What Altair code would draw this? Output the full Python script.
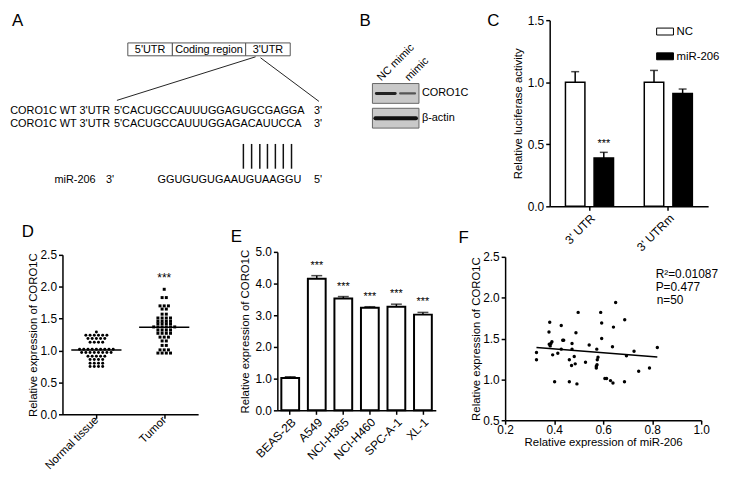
import altair as alt
import pandas as pd

FONT = "Liberation Sans"

# ---------------- data ----------------
C_site = ["3' UTR", "3' UTR", "3' UTRm", "3' UTRm"]
C_group = ["NC", "miR-206", "NC", "miR-206"]
C_mean = [1.00, 0.39, 1.00, 0.91]
C_sem = [0.085, 0.045, 0.095, 0.035]
C_sig = ["", "***", "", ""]

D_groups = ["Normal tissue", "Tumor"]
D_normal = [1.29,
            1.24, 1.24, 1.24, 1.24, 1.24, 1.24,
            1.19, 1.19, 1.19, 1.19, 1.19,
            1.13, 1.13, 1.13, 1.13,
            1.02, 1.02, 1.02, 1.02, 1.02, 1.02, 1.02, 1.02, 1.02,
            0.97, 0.97, 0.97, 0.97, 0.97, 0.97, 0.97, 0.97,
            0.91, 0.91, 0.91, 0.91, 0.91,
            0.86, 0.86, 0.86, 0.86,
            0.80, 0.80, 0.80, 0.80,
            0.75, 0.75, 0.75, 0.75]
D_tumor = [1.96,
           1.83, 1.83,
           1.70, 1.70, 1.70,
           1.65, 1.65,
           1.57, 1.57,
           1.51, 1.51, 1.51, 1.51,
           1.46, 1.46, 1.46, 1.46,
           1.42, 1.42, 1.42, 1.42,
           1.37, 1.37, 1.37, 1.37, 1.37, 1.37,
           1.32, 1.32, 1.32, 1.32,
           1.27, 1.27, 1.27, 1.27,
           1.21, 1.21, 1.21,
           1.15, 1.15,
           1.08, 1.08,
           1.01, 1.01, 1.01,
           0.96, 0.96, 0.96, 0.96]

E_lines = ["BEAS-2B", "A549", "NCI-H365", "NCI-H460", "SPC-A-1", "XL-1"]
E_mean = [1.02, 4.15, 3.53, 3.24, 3.27, 3.02]
E_sem = [0.04, 0.10, 0.06, 0.03, 0.08, 0.07]
E_sig = ["", "***", "***", "***", "***", "***"]

F_mir = [0.498, 0.590, 0.382, 0.594, 0.429, 0.379, 0.489, 0.594, 0.435, 0.439,
         0.473, 0.391, 0.387, 0.384, 0.543, 0.429, 0.473, 0.574, 0.328, 0.415,
         0.394, 0.328, 0.462, 0.482, 0.579, 0.576, 0.528, 0.486, 0.471, 0.572,
         0.572, 0.607, 0.614, 0.402, 0.462, 0.493, 0.651, 0.688, 0.642, 0.638,
         0.726, 0.821, 0.695, 0.789, 0.745, 0.630, 0.640, 0.687, 0.380, 0.575]
F_coro = [1.82, 1.82, 1.70, 1.69, 1.66, 1.58, 1.57, 1.50, 1.48, 1.48,
          1.44, 1.46, 1.44, 1.41, 1.42, 1.37, 1.37, 1.37, 1.33, 1.32,
          1.30, 1.24, 1.24, 1.28, 1.27, 1.24, 1.21, 1.19, 1.17, 1.16,
          1.14, 1.01, 1.01, 0.97, 0.97, 0.945, 1.94, 1.73, 1.64, 1.40,
          1.345, 1.39, 1.29, 1.14, 1.10, 0.985, 0.955, 0.97, 1.43, 1.18]
F_stats = ["R\u00b2=0.01087", "P=0.477", "n=50"]

# ---------------- frames ----------------
dfC = pd.DataFrame({"site": C_site, "group": C_group, "mean": C_mean, "sem": C_sem, "sig": C_sig})

rows = []
for gi, vals in enumerate([D_normal, D_tumor]):
    counts = {}
    for v in vals:
        counts[v] = counts.get(v, 0) + 1
    seen = {}
    for v in vals:
        k = counts[v]
        i = seen.get(v, 0)
        seen[v] = i + 1
        rows.append({"g": gi, "name": D_groups[gi], "v": v, "xo": gi + (i - (k - 1) / 2) * 0.062})
dfD = pd.DataFrame(rows)

dfE = pd.DataFrame({"line": E_lines, "mean": E_mean, "sem": E_sem, "sig": E_sig})
dfF = pd.DataFrame({"x": F_mir, "y": F_coro})
one = pd.DataFrame({"k": [0]})

W, H = 720, 464


def txt(s, x, y, size=11, align="left", baseline="alphabetic", angle=0, color="black"):
    return alt.Chart(one).mark_text(text=s, fontSize=size, align=align, baseline=baseline,
                                    angle=angle, color=color, font=FONT).encode(
        x=alt.value(x), y=alt.value(y))


def line(x1, y1, x2, y2, w=1.0, color="#222", cap="butt"):
    return alt.Chart(one).mark_rule(color=color, strokeWidth=w, strokeCap=cap).encode(
        x=alt.value(x1), y=alt.value(y1), x2=alt.value(x2), y2=alt.value(y2))


def box(x1, y1, x2, y2, fill="white", stroke="#555", w=1.0):
    return alt.Chart(one).mark_rect(fill=fill, stroke=stroke, strokeWidth=w).encode(
        x=alt.value(x1), y=alt.value(y1), x2=alt.value(x2), y2=alt.value(y2))


# ---------------- panel A (diagram) ----------------
A_layers = [
    txt("A", 4, 16, size=17),
    box(121, 33, 166, 46), box(166, 33, 240, 46), box(240, 33, 285, 46),
    txt("5'UTR", 143.5, 40, align="center", baseline="middle"),
    txt("Coding region", 203, 40, align="center", baseline="middle"),
    txt("3'UTR", 262.5, 40, align="center", baseline="middle"),
    line(250, 47, 110, 91), line(255, 48, 314, 92),
    txt("CORO1C WT 3'UTR", 103, 105, align="right"),
    txt("5'CACUGCCAUUUGGAGUGCGAGGA", 107, 105),
    txt("3'", 309, 105),
    txt("CORO1C WT 3'UTR", 103, 118, align="right"),
    txt("5'CACUGCCAUUUGGAGACAUUCCA", 107, 118),
    txt("3'", 309, 118),
    txt("miR-206", 47, 174), txt("3'", 99, 174),
    txt("GGUGUGUGAAUGUAAGGU", 151, 174), txt("5'", 309, 174),
]
for px in [237.7, 246, 254.3, 262, 270, 278, 286.3]:
    A_layers.append(line(px, 135, px, 160, w=1.5, color="#111"))

# ---------------- panel B (blot drawing) ----------------
B_layers = [
    txt("B", 355, 16, size=17),
    txt("NC mimic", 377, 72, angle=315),
    txt("mimic", 405, 72, angle=315),
    box(368, 74, 415, 94, fill="#c9c9c9", stroke="#666"),
    box(368, 99, 415, 119, fill="#c9c9c9", stroke="#666"),
    line(372, 84, 391, 84, w=3, color="#222", cap="round"),
    line(396, 84, 411, 84, w=2.2, color="#555", cap="round"),
    line(371, 109, 412, 109, w=4, color="#111", cap="round"),
    txt("CORO1C", 418, 84, baseline="middle"),
    txt("\u03b2-actin", 418, 109, baseline="middle"),
]

# ---------------- panel C ----------------
scCx = alt.Scale(range=[547, 707], paddingInner=0.39, paddingOuter=0.2)
axCx = alt.Axis(orient="bottom", offset=198 - H, labelAngle=-45, title=None)
scCo = alt.Scale(paddingInner=0.32, paddingOuter=0)
scC = alt.Scale(domain=[0, 1.5], range=[198, 10], nice=False, zero=False)
axCy = alt.Axis(orient="left", offset=-547, values=[0, 0.5, 1, 1.5], format=".1f",
                title="Relative luciferase activity")
xC = alt.X("site:N", sort=["3' UTR", "3' UTRm"], scale=scCx, axis=axCx)
xoC = alt.XOffset("group:N", sort=["NC", "miR-206"], scale=scCo)
baseC = alt.Chart(dfC).transform_calculate(top="datum.mean + datum.sem")
C_bars = baseC.mark_bar(stroke="black", strokeWidth=1.5).encode(
    x=xC, xOffset=xoC, y=alt.Y("mean:Q", scale=scC, axis=axCy),
    fill=alt.Fill("group:N", scale=alt.Scale(domain=["NC", "miR-206"], range=["white", "black"]), legend=None))
C_err = baseC.mark_rule(color="black", strokeWidth=1.5).encode(
    x=xC, xOffset=xoC, y=alt.Y("mean:Q", scale=scC, axis=axCy), y2="top:Q")
C_cap = baseC.mark_tick(color="black", size=8, thickness=1.5).encode(
    x=xC, xOffset=xoC, y=alt.Y("top:Q", scale=scC, axis=axCy))
C_star = baseC.mark_text(fontSize=11, dy=-8, baseline="middle", font=FONT).encode(
    x=xC, xOffset=xoC, y=alt.Y("top:Q", scale=scC, axis=axCy), text="sig:N")
C_layers = [
    C_bars, C_err, C_cap, C_star,
    txt("C", 484, 16, size=17),
    box(655, 18, 672, 25, fill="white", stroke="black", w=1),
    box(655, 43, 672, 50, fill="black", stroke="black", w=1),
    txt("NC", 675, 22, size=11.5, baseline="middle"),
    txt("miR-206", 675, 47, size=11.5, baseline="middle"),
]
panelC = alt.layer(*C_layers)

# ---------------- panel D ----------------
D_bottom = 408
scDx = alt.Scale(domain=[-0.5, 1.5], range=[55, 192], nice=False, zero=False)
scDy = alt.Scale(domain=[0, 2.5], range=[D_bottom, 247], nice=False, zero=False)
axDx = alt.Axis(orient="bottom", offset=D_bottom - H, values=[0, 1], labelFlush=False,
                labelExpr="datum.value == 0 ? 'Normal tissue' : 'Tumor'",
                labelAngle=-45, labelAlign="right", labelBaseline="middle",
                labelPadding=0, labelFontSize=11.5, title=None)
axDy = alt.Axis(orient="left", offset=-55, values=[0, 0.5, 1, 1.5, 2, 2.5], format=".1f",
                titlePadding=2, title="Relative expression of CORO1C")
D_pts = alt.Chart(dfD).mark_point(filled=True, size=9, opacity=1, color="black").encode(
    x=alt.X("xo:Q", scale=scDx, axis=axDx),
    y=alt.Y("v:Q", scale=scDy, axis=axDy),
    shape=alt.Shape("name:N", scale=alt.Scale(domain=D_groups, range=["circle", "square"]), legend=None))
D_mean = alt.Chart(dfD).transform_aggregate(m="mean(v)", groupby=["g"]).transform_calculate(
    x1="datum.g - 0.37", x2="datum.g + 0.37").mark_rule(color="black", strokeWidth=1.5).encode(
    x=alt.X("x1:Q", scale=scDx, axis=axDx), x2="x2:Q", y=alt.Y("m:Q", scale=scDy, axis=axDy))
D_star = alt.Chart(dfD).transform_filter("datum.g == 1").transform_aggregate(
    m="max(v)", groupby=["g"]).mark_text(text="***", fontSize=12, dy=-11, baseline="middle", font=FONT).encode(
    x=alt.X("g:Q", scale=scDx, axis=axDx), y=alt.Y("m:Q", scale=scDy, axis=axDy))
panelD = alt.layer(D_pts, D_mean, D_star, txt("D", 14, 229, size=17))

# ---------------- panel E ----------------
scEx = alt.Scale(range=[272, 432], paddingInner=0.33, paddingOuter=0.15)
axEx = alt.Axis(orient="bottom", offset=404 - H, labelAngle=-45, title=None)
scEy = alt.Scale(domain=[0, 5], range=[404, 244], nice=False, zero=False)
axEy = alt.Axis(orient="left", offset=-272, values=[0, 1, 2, 3, 4, 5], format=".1f",
                title="Relative expression of CORO1C")
xE = alt.X("line:N", sort=E_lines, scale=scEx, axis=axEx)
baseE = alt.Chart(dfE).transform_calculate(top="datum.mean + datum.sem")
E_bars = baseE.mark_bar(fill="white", stroke="black", strokeWidth=2).encode(
    x=xE, y=alt.Y("mean:Q", scale=scEy, axis=axEy))
E_err = baseE.mark_rule(color="black", strokeWidth=1.5).encode(
    x=xE, y=alt.Y("mean:Q", scale=scEy, axis=axEy), y2="top:Q")
E_cap = baseE.mark_tick(color="black", size=11, thickness=1.5).encode(
    x=xE, y=alt.Y("top:Q", scale=scEy, axis=axEy))
E_star = baseE.mark_text(fontSize=11, dy=-10, baseline="middle", font=FONT).encode(
    x=xE, y=alt.Y("top:Q", scale=scEy, axis=axEy), text="sig:N")
panelE = alt.layer(E_bars, E_err, E_cap, E_star, txt("E", 225, 234, size=17))

# ---------------- panel F ----------------
scFx = alt.Scale(domain=[0.2, 1.0], range=[502, 700], nice=False, zero=False)
scFy = alt.Scale(domain=[0.5, 2.5], range=[414, 249], nice=False, zero=False)
axFx = alt.Axis(orient="bottom", offset=414 - H, values=[0.2, 0.4, 0.6, 0.8, 1.0], format=".1f",
                labelFlush=False, labelPadding=0, titlePadding=2, title="Relative expression of miR-206")
axFy = alt.Axis(orient="left", offset=-502, values=[0.5, 1.0, 1.5, 2.0, 2.5], format=".1f",
                titlePadding=1, title="Relative expression of CORO1C")
F_pts = alt.Chart(dfF).mark_circle(size=12, opacity=1, color="black").encode(
    x=alt.X("x:Q", scale=scFx, axis=axFx), y=alt.Y("y:Q", scale=scFy, axis=axFy))
F_fit = alt.Chart(dfF).transform_regression("x", "y").mark_line(color="black", strokeWidth=1.5).encode(
    x=alt.X("x:Q", scale=scFx, axis=axFx), y=alt.Y("y:Q", scale=scFy, axis=axFy))
panelF = alt.layer(
    F_pts, F_fit, txt("F", 455, 235, size=17),
    txt(F_stats[0], 654, 266, size=12, baseline="middle"),
    txt(F_stats[1], 654, 280, size=12, baseline="middle"),
    txt(F_stats[2], 655, 293, size=12, baseline="middle"),
)

chart = alt.layer(
    *A_layers, *B_layers, panelC, panelD, panelE, panelF
).resolve_scale(
    x="independent", y="independent", xOffset="independent", fill="independent", shape="independent"
).resolve_axis(
    x="independent", y="independent"
).properties(
    width=W, height=H, padding=0, autosize=alt.AutoSizeParams(type="none"), background="white"
).configure(font=FONT).configure_view(stroke=None).configure_axis(
    grid=False, domainColor="black", domainWidth=1.5, tickColor="black", tickWidth=1.5, tickSize=4,
    labelColor="black", titleColor="black", labelFont=FONT, titleFont=FONT, labelFontSize=12,
    titleFontSize=11.5, titleFontWeight="normal", labelPadding=2
)

chart.save("out.html", embed_options={"renderer": "svg", "actions": False})
